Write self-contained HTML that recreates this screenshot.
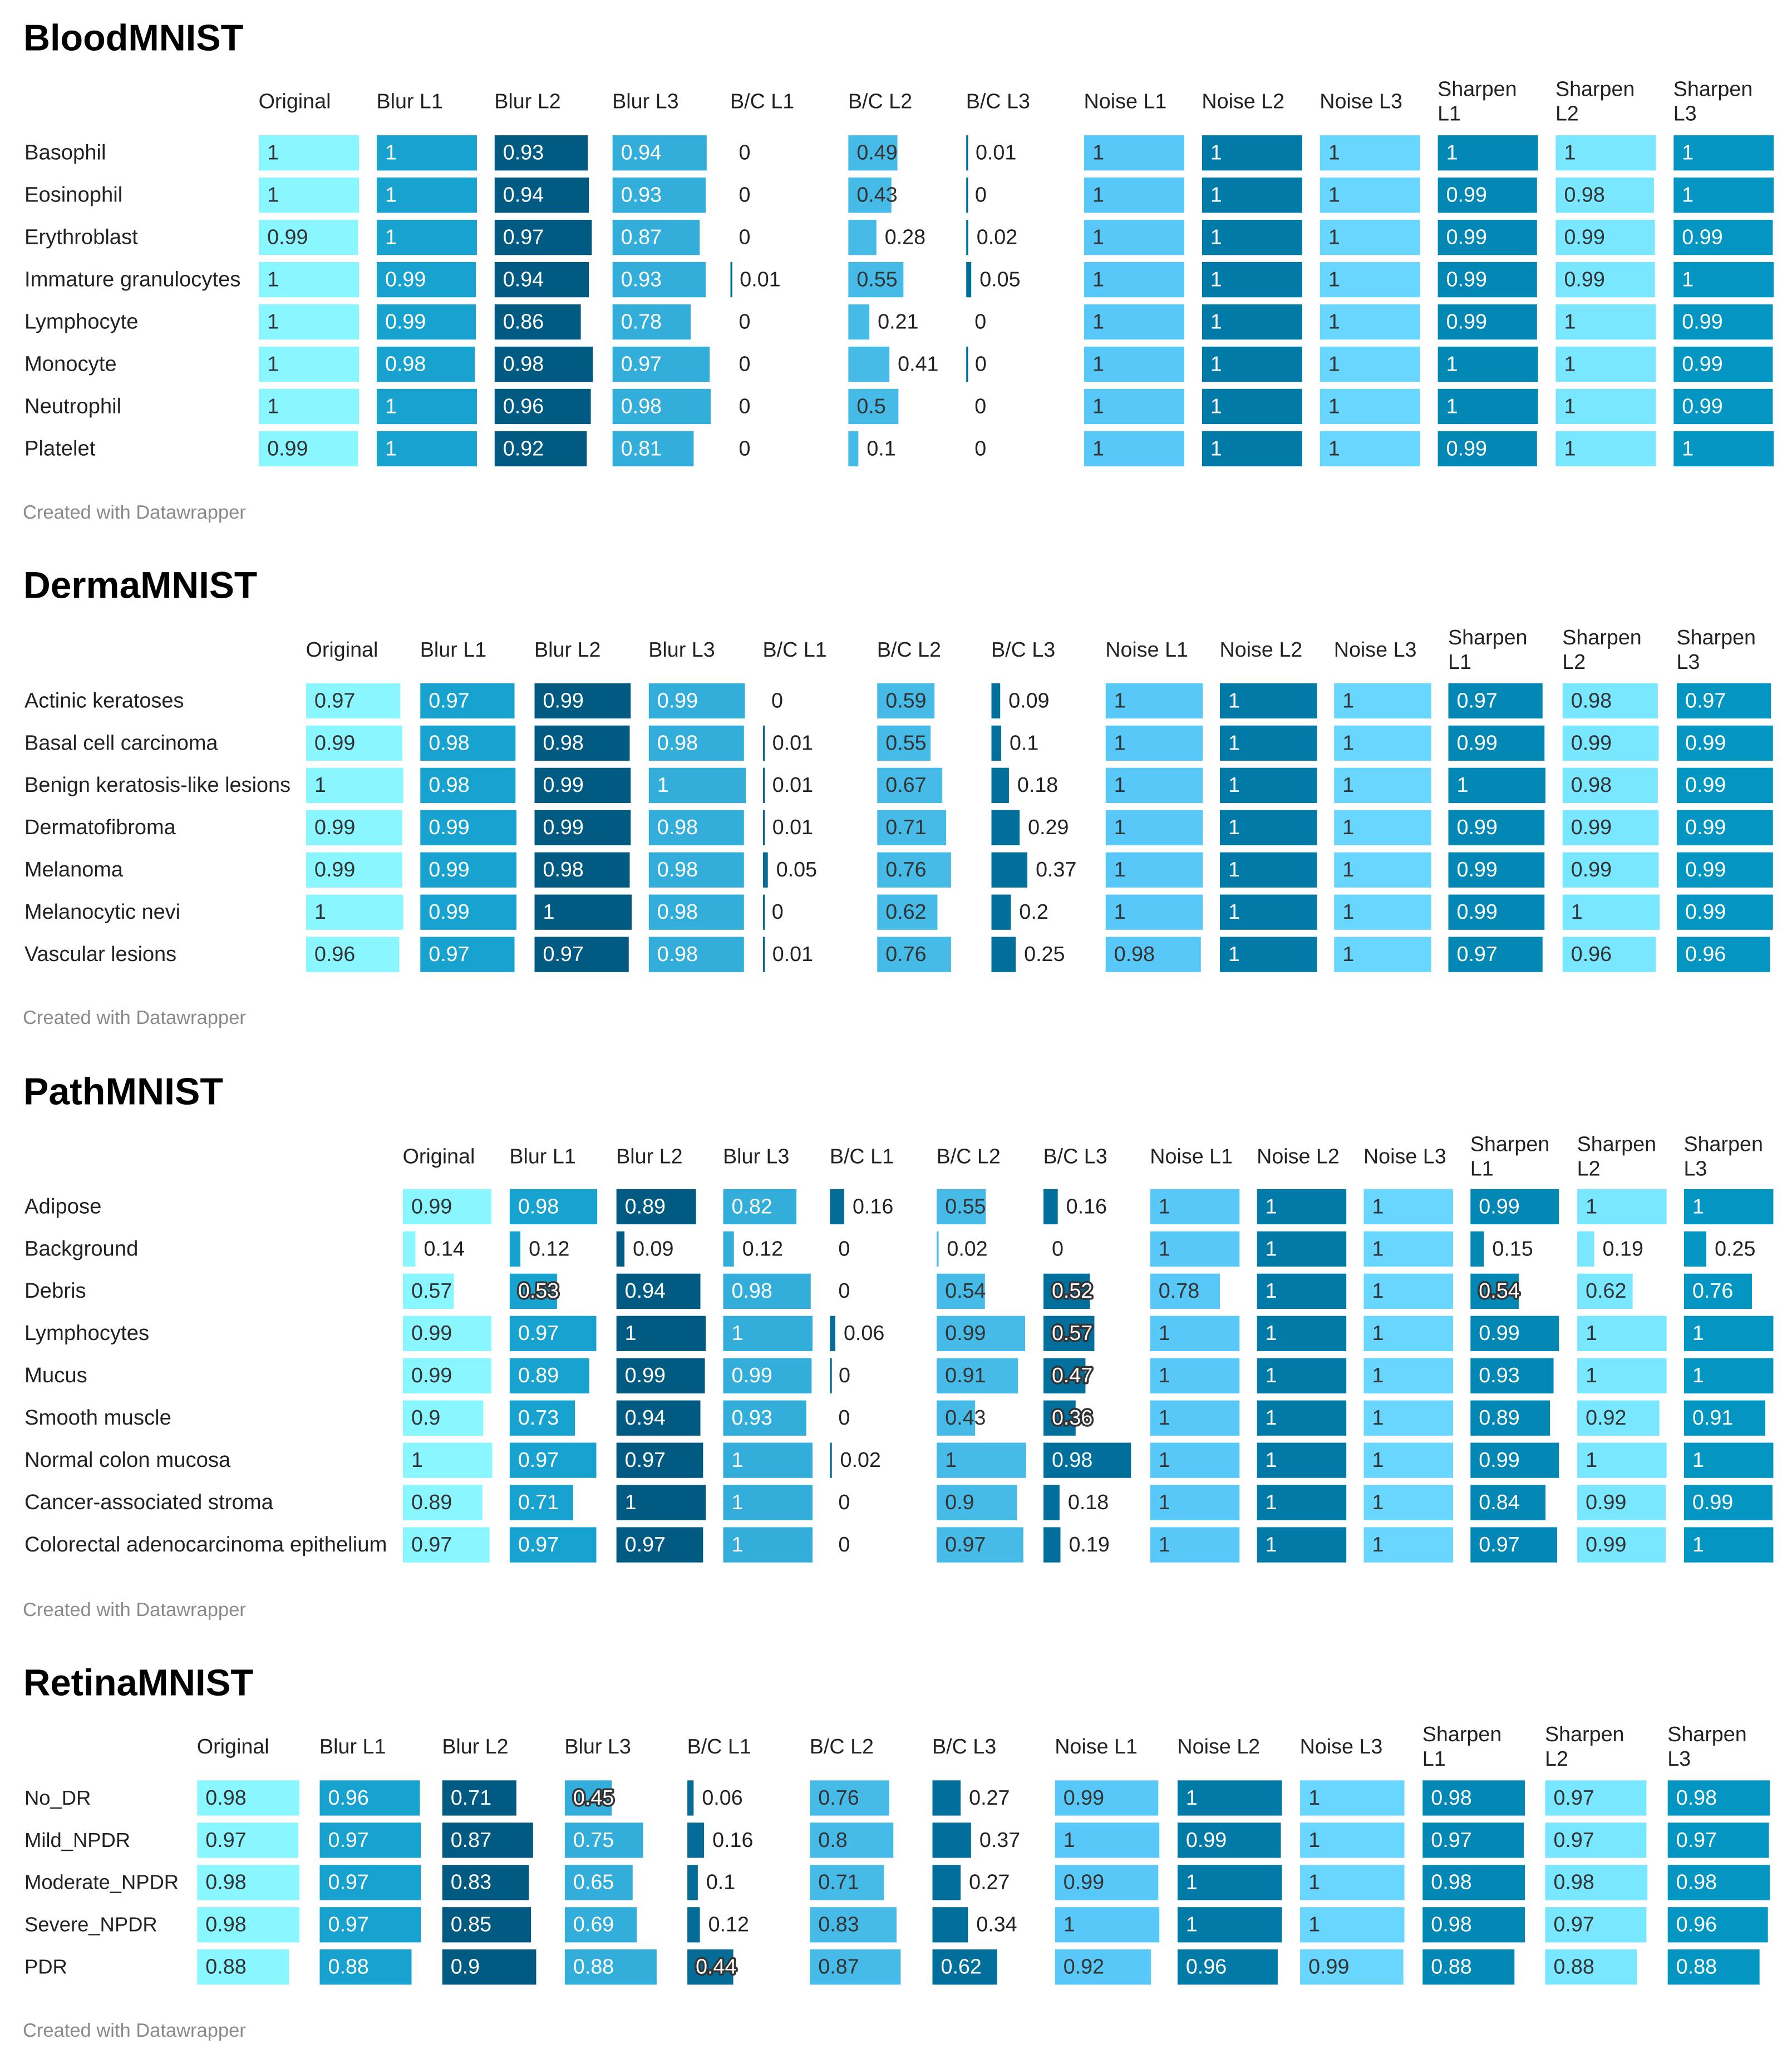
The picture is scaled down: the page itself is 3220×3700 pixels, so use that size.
<!DOCTYPE html>
<html lang="en">
<head>
<meta charset="utf-8">
<title>MedMNIST robustness tables</title>
<style>
  html, body { margin: 0; padding: 0; background: #ffffff; }
  svg { display: block; }
  text { font-family: "Liberation Sans", Arial, sans-serif; text-rendering: geometricPrecision; }
</style>
</head>
<body>
<svg id="chart-root" xmlns="http://www.w3.org/2000/svg" width="3220" height="3700" viewBox="0 0 3220 3700"></svg>
<script>
// ---- Shared categories ----
const columnLabels = ['Original', 'Blur L1', 'Blur L2', 'Blur L3', 'B/C L1', 'B/C L2', 'B/C L3', 'Noise L1', 'Noise L2', 'Noise L3', 'Sharpen L1', 'Sharpen L2', 'Sharpen L3'];

// ---- BloodMNIST ----
const bloodTitle = 'BloodMNIST';
const bloodCategories = ['Basophil', 'Eosinophil', 'Erythroblast', 'Immature granulocytes', 'Lymphocyte', 'Monocyte', 'Neutrophil', 'Platelet'];
const bloodValues = [
  [1, 1, 0.93, 0.94, 0, 0.49, 0.01, 1, 1, 1, 1, 1, 1],
  [1, 1, 0.94, 0.93, 0, 0.43, 0.004, 1, 1, 1, 0.99, 0.98, 1],
  [0.99, 1, 0.97, 0.87, 0, 0.28, 0.02, 1, 1, 1, 0.99, 0.99, 0.99],
  [1, 0.99, 0.94, 0.93, 0.01, 0.55, 0.05, 1, 1, 1, 0.99, 0.99, 1],
  [1, 0.99, 0.86, 0.78, 0, 0.21, 0, 1, 1, 1, 0.99, 1, 0.99],
  [1, 0.98, 0.98, 0.97, 0, 0.41, 0.004, 1, 1, 1, 1, 1, 0.99],
  [1, 1, 0.96, 0.98, 0, 0.5, 0, 1, 1, 1, 1, 1, 0.99],
  [0.99, 1, 0.92, 0.81, 0, 0.1, 0, 1, 1, 1, 0.99, 1, 1]
];

// ---- DermaMNIST ----
const dermaTitle = 'DermaMNIST';
const dermaCategories = ['Actinic keratoses', 'Basal cell carcinoma', 'Benign keratosis-like lesions', 'Dermatofibroma', 'Melanoma', 'Melanocytic nevi', 'Vascular lesions'];
const dermaValues = [
  [0.97, 0.97, 0.99, 0.99, 0, 0.59, 0.09, 1, 1, 1, 0.97, 0.98, 0.97],
  [0.99, 0.98, 0.98, 0.98, 0.01, 0.55, 0.1, 1, 1, 1, 0.99, 0.99, 0.99],
  [1, 0.98, 0.99, 1, 0.01, 0.67, 0.18, 1, 1, 1, 1, 0.98, 0.99],
  [0.99, 0.99, 0.99, 0.98, 0.01, 0.71, 0.29, 1, 1, 1, 0.99, 0.99, 0.99],
  [0.99, 0.99, 0.98, 0.98, 0.05, 0.76, 0.37, 1, 1, 1, 0.99, 0.99, 0.99],
  [1, 0.99, 1, 0.98, 0.004, 0.62, 0.2, 1, 1, 1, 0.99, 1, 0.99],
  [0.96, 0.97, 0.97, 0.98, 0.01, 0.76, 0.25, 0.98, 1, 1, 0.97, 0.96, 0.96]
];

// ---- PathMNIST ----
const pathTitle = 'PathMNIST';
const pathCategories = ['Adipose', 'Background', 'Debris', 'Lymphocytes', 'Mucus', 'Smooth muscle', 'Normal colon mucosa', 'Cancer-associated stroma', 'Colorectal adenocarcinoma epithelium'];
const pathValues = [
  [0.99, 0.98, 0.89, 0.82, 0.16, 0.55, 0.16, 1, 1, 1, 0.99, 1, 1],
  [0.14, 0.12, 0.09, 0.12, 0, 0.02, 0, 1, 1, 1, 0.15, 0.19, 0.25],
  [0.57, 0.53, 0.94, 0.98, 0, 0.54, 0.52, 0.78, 1, 1, 0.54, 0.62, 0.76],
  [0.99, 0.97, 1, 1, 0.06, 0.99, 0.57, 1, 1, 1, 0.99, 1, 1],
  [0.99, 0.89, 0.99, 0.99, 0.004, 0.91, 0.47, 1, 1, 1, 0.93, 1, 1],
  [0.9, 0.73, 0.94, 0.93, 0, 0.43, 0.36, 1, 1, 1, 0.89, 0.92, 0.91],
  [1, 0.97, 0.97, 1, 0.02, 1, 0.98, 1, 1, 1, 0.99, 1, 1],
  [0.89, 0.71, 1, 1, 0, 0.9, 0.18, 1, 1, 1, 0.84, 0.99, 0.99],
  [0.97, 0.97, 0.97, 1, 0, 0.97, 0.19, 1, 1, 1, 0.97, 0.99, 1]
];

// ---- RetinaMNIST ----
const retinaTitle = 'RetinaMNIST';
const retinaCategories = ['No_DR', 'Mild_NPDR', 'Moderate_NPDR', 'Severe_NPDR', 'PDR'];
const retinaValues = [
  [0.98, 0.96, 0.71, 0.45, 0.06, 0.76, 0.27, 0.99, 1, 1, 0.98, 0.97, 0.98],
  [0.97, 0.97, 0.87, 0.75, 0.16, 0.8, 0.37, 1, 0.99, 1, 0.97, 0.97, 0.97],
  [0.98, 0.97, 0.83, 0.65, 0.1, 0.71, 0.27, 0.99, 1, 1, 0.98, 0.98, 0.98],
  [0.98, 0.97, 0.85, 0.69, 0.12, 0.83, 0.34, 1, 1, 1, 0.98, 0.97, 0.96],
  [0.88, 0.88, 0.9, 0.88, 0.44, 0.87, 0.62, 0.92, 0.96, 0.99, 0.88, 0.88, 0.88]
];

// ---- Styling per column ----
const columnFills = ['#8af6ff', '#18a2d0', '#015a82', '#33aedb', '#056b97', '#47bbe8', '#006f9c', '#57c8f7', '#027aa8', '#68d6fe', '#0387b4', '#78e7ff', '#0396c2'];
const columnIsDark = [false, true, true, true, true, false, true, false, true, false, true, false, true];

// ---- Layout ----
const tables = [
  { id: 'blood',  title: bloodTitle,  cats: bloodCategories,  vals: bloodValues,  titleSize: 66.5, labelSize: 38.2, titleY: 90.6,   headY: 194.7,  firstCol: 465.1, colStep: 211.85, unit: 180,   firstRow: 243.1,  footY: 932,  insideMin: 0.42 },
  { id: 'derma',  title: dermaTitle,  cats: dermaCategories,  vals: dermaValues,  titleSize: 67.5, labelSize: 37.9, titleY: 1074.6, headY: 1180,   firstCol: 550,   colStep: 205.25, unit: 174.5, firstRow: 1227.8, footY: 1840, insideMin: 0.42 },
  { id: 'path',   title: pathTitle,   cats: pathCategories,   vals: pathValues,   titleSize: 68,   labelSize: 38.3, titleY: 1984.6, headY: 2090.6, firstCol: 724,   colStep: 191.83, unit: 160.5, firstRow: 2136.8, footY: 2904, insideMin: 0.3 },
  { id: 'retina', title: retinaTitle, cats: retinaCategories, vals: retinaValues, titleSize: 67,   labelSize: 36.4, titleY: 3046.4, headY: 3151,   firstCol: 354.3, colStep: 220.2,  unit: 187.5, firstRow: 3199.3, footY: 3660, insideMin: 0.42 }
];
const ROW_STEP = 75.95;
const ROW_H = 63.3;
const BASE_OFFSET = 43.5;
const PAD = 15;
const MIN_BAR = 3.4;
const SVG_NS = 'http://www.w3.org/2000/svg';

// ---- Axis functions ----
function colX(t, j) { return t.firstCol + j * t.colStep; }
function rowY(t, i) { return t.firstRow + i * ROW_STEP; }
function barW(t, v) { return v * t.unit; }
function printed(v) { return String(Number(v.toFixed(2))); }

function add(parent, tag, attrs) {
  const el = document.createElementNS(SVG_NS, tag);
  for (const k in attrs) el.setAttribute(k, attrs[k]);
  parent.appendChild(el);
  return el;
}

const root = document.getElementById('chart-root');

tables.forEach(function (t) {
  const group = add(root, 'g', {});
  
  

  const titleEl = add(group, 'text', { x: 42, y: t.titleY, 'font-size': t.titleSize, 'font-weight': 700, fill: '#000' });
  
  
  titleEl.textContent = t.title;

  columnLabels.forEach(function (label, j) {
    const x = colX(t, j) - 0.5;
    const parts = label.indexOf('Sharpen') === 0 ? label.split(' ') : [label];
    const head = add(group, 'text', { x: x, y: parts.length > 1 ? t.headY - 22 : t.headY, 'font-size': 37.7, fill: '#222' });
    
    
    if (parts.length > 1) {
      const a = add(head, 'tspan', { x: x });
      a.textContent = parts[0];
      const b = add(head, 'tspan', { x: x, dy: 44 });
      b.textContent = parts[1];
    } else {
      head.textContent = label;
    }
  });

  t.cats.forEach(function (cat, i) {
    const y = rowY(t, i);
    const rowLabel = add(group, 'text', { x: 44, y: y + BASE_OFFSET, 'font-size': t.labelSize, fill: '#222' });
    
    
    rowLabel.textContent = cat;

    t.vals[i].forEach(function (v, j) {
      const x = colX(t, j);
      const w = barW(t, v);
      if (v > 0) {
        const bar = add(group, 'rect', { x: x, y: y, width: Math.max(MIN_BAR, w), height: ROW_H, fill: columnFills[j] });
        
        
      }
      const inside = v >= t.insideMin;
      const tx = inside ? x + PAD : x + PAD + w;
      const attrs = { x: tx, y: y + BASE_OFFSET, 'font-size': 37.7 };
      if (inside && columnIsDark[j]) {
        attrs.fill = '#ffffff';
        if (v < 0.6) {
          attrs.stroke = '#333333';
          attrs['stroke-width'] = 7;
          attrs['stroke-linejoin'] = 'round';
          attrs['paint-order'] = 'stroke';
        }
      } else {
        attrs.fill = inside ? '#333333' : '#222222';
      }
      const val = add(group, 'text', attrs);
      
      
      val.textContent = printed(v);
    });
  });

  const foot = add(group, 'text', { x: 41, y: t.footY, 'font-size': 34.5, fill: '#8a8a8a' });
  
  
  foot.textContent = 'Created with Datawrapper';
});
</script>
</body>
</html>
